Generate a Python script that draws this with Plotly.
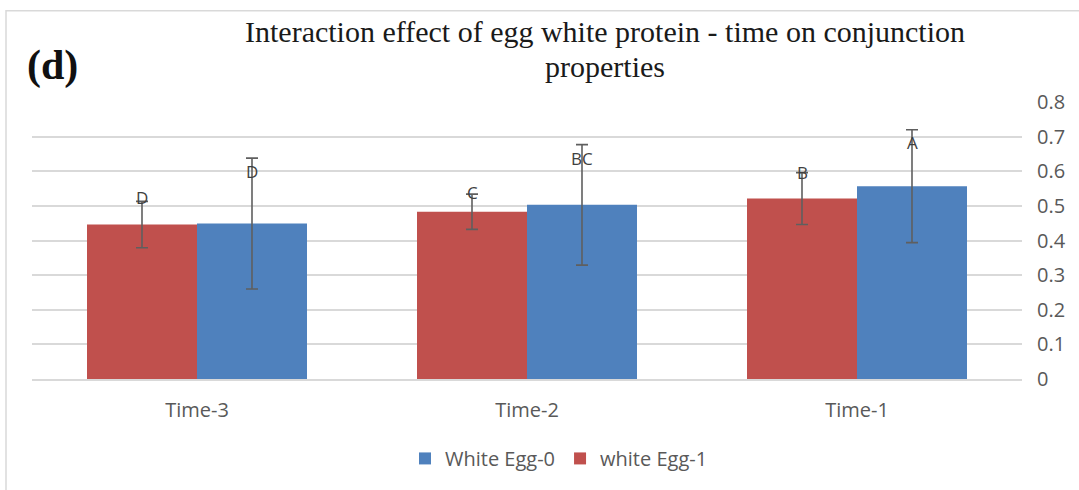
import plotly.graph_objects as go

# ---- data ----
categories = ["Time-3", "Time-2", "Time-1"]
egg1_values = [0.446, 0.483, 0.521]      # white Egg-1 (red)
egg1_errors = [0.067, 0.051, 0.075]
egg0_values = [0.449, 0.503, 0.557]      # White Egg-0 (blue)
egg0_errors = [0.189, 0.174, 0.163]
egg1_letters = ["D", "C", "B"]
egg0_letters = ["D", "BC", "A"]
egg1_letter_y = [0.524, 0.538, 0.595]
egg0_letter_y = [0.598, 0.638, 0.684]
y_ticks = [0, 0.1, 0.2, 0.3, 0.4, 0.5, 0.6, 0.7, 0.8]

RED = "#C0504D"
BLUE = "#4F81BD"
GREY_TXT = "#595959"
ERR = "#5f5f5f"

W, H = 1079, 490
L, R, T, B = 32, 57, 102, 109
PW, PH = W - L - R, H - T - B

def px_x(x):
    return (x - L) / PW

def px_y(y):
    return (H - B - y) / PH

fig = go.Figure()
fig.add_trace(go.Bar(
    name="white Egg-1", x=categories, y=egg1_values, marker_color=RED,
    marker_line_width=0,
    error_y=dict(type="data", array=egg1_errors, color=ERR, thickness=1.6, width=6),
))
fig.add_trace(go.Bar(
    name="White Egg-0", x=categories, y=egg0_values, marker_color=BLUE,
    marker_line_width=0,
    error_y=dict(type="data", array=egg0_errors, color=ERR, thickness=1.6, width=6),
))

annotations = []
bar_px = PW / 3 / 3  # width of one bar in px
for cat, lab, yv in zip(categories, egg1_letters, egg1_letter_y):
    annotations.append(dict(x=cat, y=yv, xref="x", yref="y", text=lab, showarrow=False,
                            xshift=-bar_px / 2, font=dict(family="Open Sans", size=17, color="#404040")))
for cat, lab, yv in zip(categories, egg0_letters, egg0_letter_y):
    annotations.append(dict(x=cat, y=yv, xref="x", yref="y", text=lab, showarrow=False,
                            xshift=bar_px / 2, font=dict(family="Open Sans", size=17, color="#404040")))

annotations.append(dict(x=px_x(605), y=px_y(31), xref="paper", yref="paper",
                        text="Interaction effect of egg white protein - time on conjunction",
                        showarrow=False, xanchor="center", yanchor="middle",
                        font=dict(family="Liberation Serif", size=30, color="#1a1a1a")))
annotations.append(dict(x=px_x(605), y=px_y(66), xref="paper", yref="paper",
                        text="properties", showarrow=False, xanchor="center", yanchor="middle",
                        font=dict(family="Liberation Serif", size=30, color="#1a1a1a")))
annotations.append(dict(x=px_x(25), y=px_y(65), xref="paper", yref="paper",
                        text="<b>(d)</b>", showarrow=False, xanchor="left", yanchor="middle",
                        font=dict(family="Liberation Serif", size=42, color="#111111")))

fig.update_layout(
    width=W, height=H,
    margin=dict(l=L, r=R, t=T, b=B),
    paper_bgcolor="white", plot_bgcolor="white",
    barmode="group", bargap=1/3, bargroupgap=0,
    showlegend=True,
    legend=dict(orientation="h", x=px_x(559), y=px_y(461), xanchor="center", yanchor="middle",
                traceorder="reversed", font=dict(family="Open Sans", size=20, color=GREY_TXT),
                itemwidth=30),
    annotations=annotations,
    shapes=[dict(type="rect", xref="paper", yref="paper",
                 x0=px_x(6), x1=px_x(1090), y0=px_y(500), y1=px_y(10),
                 line=dict(color="#D9D9D9", width=1.5), layer="below")],
)
fig.update_xaxes(
    showgrid=False, showline=True, linecolor="#D9D9D9", linewidth=1.5,
    ticks="outside", ticklen=12, tickcolor="rgba(0,0,0,0)",
    tickfont=dict(family="Open Sans", size=20, color=GREY_TXT),
)
fig.update_yaxes(
    side="right", range=[0, 0.8], tickvals=y_ticks,
    showgrid=True, gridcolor="#D9D9D9", gridwidth=1.5, zeroline=False,
    ticks="outside", ticklen=10, tickcolor="rgba(0,0,0,0)",
    tickfont=dict(family="Open Sans", size=20, color=GREY_TXT),
)

fig.write_html(
    "out.html",
    config={"displayModeBar": False},
    post_script="document.body.style.margin='0';document.body.style.overflow='hidden';",
)
